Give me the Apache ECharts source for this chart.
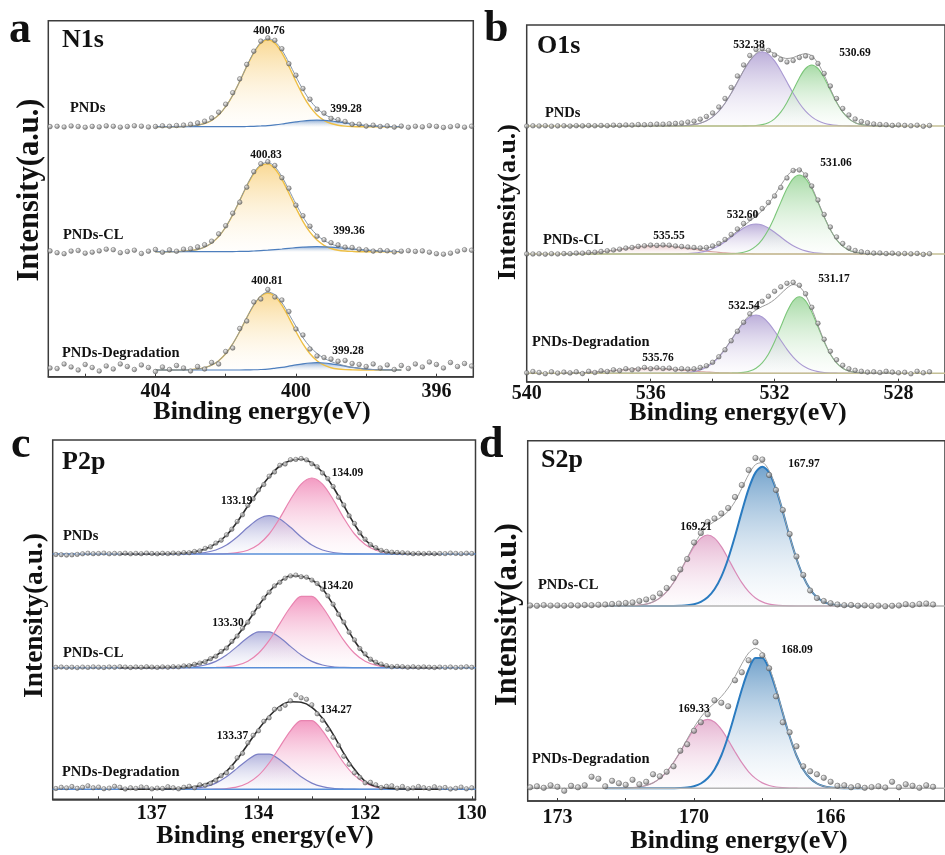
<!DOCTYPE html>
<html>
<head>
<meta charset="utf-8">
<script src="https://cdn.jsdelivr.net/npm/echarts@6/dist/echarts.min.js"></script>
<style>
html,body{margin:0;padding:0;background:#fff;}
#main{width:945px;height:855px;}
</style>
</head>
<body>
<div id="main"></div>
<script>
// ---------------- N1s (a) : fit grid from 397.0 eV, scan from 395.0 eV, step 0.2 ----------------
const n1sTicks = [396, 398, 400, 402, 404, 406];
const n1sLabels = [396, 400, 404];
const n1sPndsMain = [0,0,0,0,0,0,0,0.2,0.6,1.5,3.2,6.4,11.8,20,31.4,45.3,60.3,73.9,83.5,87,83.5,73.9,60.3,45.3,31.4,20,11.8,6.4,3.2,1.5,0.6,0.2,0,0,0,0];
const n1sPndsMinor = [0,0,0.2,0.4,0.7,1.1,1.8,2.7,3.8,4.8,5.7,6.3,6.5,6.3,5.7,4.8,3.8,2.7,1.8,1.1,0.7,0.4,0.2,0,0,0,0,0,0,0,0,0,0,0,0,0];
const n1sPndsRaw = [0.5,-0.5,0.8,0,-0.7,0.3,1.0,-0.2,0.4,-0.6,
	0.6,-0.4,0.8,0.2,1.5,0.6,2.5,2.4,5.2,7.0,8.3,13.6,17.5,27.5,38.2,51.5,63.0,78.0,86.4,88.8,85.6,75.5,62.3,47.8,34.0,22.5,14.5,8.8,5.5,3.8,2.4,1.6,1.2,0.4,0.9,0.2,
	-0.3,0.5,0.9,0.2,-0.5,0.4,0.8,-0.2,0.3,-0.6,0.2,0.7,-0.3,0.4,0.1];
const n1sClMain = [0,0,0,0,0,0,0,0.3,0.7,1.5,3.2,6.4,11.6,19.5,30.4,43.8,58.5,72.4,82.9,87.8,86.1,78.2,65.7,51.1,36.9,24.6,15.2,8.7,4.6,2.2,1.0,0.4,0.2,0,0,0];
const n1sClMinor = [0.15,0.25,0.4,0.7,1.0,1.5,2.1,2.7,3.4,4.0,4.5,4.9,5,4.9,4.5,4.0,3.4,2.7,2.1,1.5,1.0,0.7,0.4,0.25,0.15,0,0,0,0,0,0,0,0,0,0,0];
const n1sClRaw = [1.5,2.0,0.5,-1.5,-2.5,-2.0,-0.5,0.8,0.3,1.0,
	0.5,-0.3,0.9,1.2,0.6,1.8,2.5,4.2,4.5,6.8,9.0,12.0,15.5,25.5,36.0,46.5,63.5,74.0,86.2,90.0,88.0,80.0,64.5,49.5,38.5,26.0,17.8,10.5,7.0,4.8,3.0,2.5,0.5,1.8,-0.5,2.2,
	0.5,-1.8,1.5,0.2,-1.0,2.0,2.5,0.8,-0.5,-1.5,1.2,0.6,-2.0,-1.0,0.8];
const n1sDegMain = [0,0,0,0,0,0,0,0.15,0.4,1.0,2.3,4.8,9.3,16.2,26.1,38.5,52.2,64.8,73.7,77,73.7,64.8,52.2,38.5,26.1,16.2,9.3,4.8,2.3,1.0,0.4,0.15,0,0,0,0];
const n1sDegMinor = [0,0,0.1,0.25,0.5,0.9,1.7,2.6,3.8,5.1,6.2,7.0,7.3,7.0,6.2,5.1,3.8,2.6,1.7,0.9,0.5,0.25,0.1,0,0,0,0,0,0,0,0,0,0,0,0,0];
const n1sDegRaw = [4.0,6.5,3.5,7.5,2.0,5.5,8.0,3.0,6.0,1.5,
	4.5,0.5,5.0,2.0,6.0,3.5,5.5,6.5,9.5,8.8,11.0,12.5,14.0,21.0,35.0,41.0,58.5,70.0,73.0,80.5,71.0,68.0,49.0,41.5,22.0,18.5,6.0,7.5,1.0,3.5,-1.0,2.0,4.5,0.5,3.0,-1.5,
	2.5,5.0,0.5,3.5,6.0,1.0,4.0,-1.0,2.5,5.5,0.0,3.0,6.0,1.5,2.0];

// ---------------- O1s (b) : fit grid from 528.0 eV, scan from 527.0 eV, step 0.2 ----------------
const o1sTicks = [528, 530, 532, 534, 536, 538];
const o1sLabels = [528, 532, 536, 540];
const o1sPndsC = [0,0,0,0,0,0,0,0,0.1,0.3,0.65,1.4,2.8,5.2,9.1,14.8,22.8,32.7,43.9,55.3,65.1,71.9,74.3,71.9,65.1,55.3,43.9,32.7,22.8,14.8,9.1,5.2,2.8,1.4,0.65,0.3,0.1,0,0,0,0,0,0,0,0,0,0,0,0,0,0,0,0,0,0];
const o1sPndsOx = [0,0,0,0.1,0.2,0.5,1.4,3.3,7.2,13.8,23.6,35.7,48.1,57.5,61,57.5,48.1,35.7,23.6,13.8,7.2,3.3,1.4,0.5,0.2,0.1,0,0,0,0,0,0,0,0,0,0,0,0,0,0,0,0,0,0,0,0,0,0,0,0,0,0,0,0,0];
const o1sPndsRaw = [0.5,-0.3,0.8,0.2,0.6,
	1.0,0.6,1.2,1.5,2.0,3.2,4.5,7.0,11.0,17.5,27.5,40.0,52.5,62.5,68.5,70.0,68.5,65.5,64.0,66.5,71.0,75.5,77.5,76.5,70.5,61.0,50.0,38.5,27.5,19.0,13.0,9.5,6.8,4.8,3.9,3.0,2.6,2.2,1.8,1.9,1.5,1.2,1.4,0.9,1.0,0.6,0.8,0.3,0.5,0.2,0.4,0.1,0.3,-0.1,0.2,
	0.1,-0.2,0.3,0.0,0.2,-0.1];
const o1sClC = [0,0,0,0,0,0,0,0,0,0,0,0.2,0.4,0.9,1.7,3.1,5.3,8.3,12.3,17.0,21.8,26.0,29.0,30,29.0,26.0,21.8,17.0,12.3,8.3,5.3,3.1,1.7,0.9,0.4,0.2,0,0,0,0,0,0,0,0,0,0,0,0,0,0,0,0,0,0,0];
const o1sClOx = [0,0,0,0,0.1,0.3,0.7,1.7,3.8,7.8,14.4,24.2,37.1,51.6,65.4,75.4,79.0,75.4,65.4,51.6,37.1,24.2,14.4,7.8,3.8,1.7,0.7,0.3,0.1,0,0,0,0,0,0,0,0,0,0,0,0,0,0,0,0,0,0,0,0,0,0,0,0,0,0];
const o1sClW = [0,0,0,0,0,0,0,0,0,0,0,0,0,0,0,0,0,0,0,0,0,0,0,0,0.2,0.3,0.5,0.8,1.2,1.6,2.2,2.9,3.8,4.7,5.6,6.5,7.3,8.0,8.4,8.5,8.4,8.0,7.3,6.5,5.6,4.7,3.8,2.9,2.2,1.6,1.2,0.8,0.5,0.3,0.2];
const o1sClRaw = [0.3,-0.4,0.6,0.1,0.5,
	0.2,0.8,0.4,1.0,0.9,1.5,2.2,3.5,6.0,10.5,17.0,27.0,39.5,54.0,68.0,79.0,84.0,83.5,76.0,66.5,58.0,51.5,45.5,40.0,35.5,30.5,25.0,19.5,14.5,10.5,8.0,6.5,6.0,6.5,7.0,7.5,8.0,8.8,9.0,8.6,8.9,8.2,7.6,6.5,5.9,4.8,4.0,3.2,2.5,1.8,1.5,0.8,0.9,0.3,0.4,
	0.0,0.3,-0.2,0.2,0.0,0.1];
const o1sDegC = [0,0,0,0,0,0,0,0,0,0,0.15,0.35,0.8,1.7,3.3,6.0,10.2,16.2,24.0,33.0,42.3,50.5,56.3,58.3,56.3,50.5,42.3,33.0,24.0,16.2,10.2,6.0,3.3,1.7,0.8,0.35,0.15,0,0,0,0,0,0,0,0,0,0,0,0,0,0,0,0,0,0];
const o1sDegOx = [0,0,0,0,0,0.1,0.3,0.9,2.2,5.0,10.4,19.1,31.5,46.5,61.3,72.5,76.6,72.5,61.3,46.5,31.5,19.1,10.4,5.0,2.2,0.9,0.3,0.1,0,0,0,0,0,0,0,0,0,0,0,0,0,0,0,0,0,0,0,0,0,0,0,0,0,0,0];
const o1sDegW = [0,0,0,0,0,0,0,0,0,0,0,0,0,0,0,0,0,0,0,0,0,0,0,0,0,0.1,0.2,0.3,0.5,0.7,1.0,1.3,1.7,2.2,2.8,3.3,3.8,4.3,4.7,4.9,5,4.9,4.7,4.3,3.8,3.3,2.8,2.2,1.7,1.3,1.0,0.7,0.5,0.3,0.2];
const o1sDegRaw = [1.5,0.5,2.0,-0.5,1.0,
	0.5,1.2,2.0,0.8,1.5,1.2,2.0,3.0,4.5,8.0,13.5,22.0,34.0,50.0,66.0,79.5,88.0,91.0,90.0,86.5,82.0,77.0,72.0,66.0,59.5,51.0,42.0,32.5,23.5,16.5,11.0,7.5,5.8,4.5,4.2,4.6,4.0,5.2,4.8,5.5,4.6,5.8,4.2,3.5,4.6,2.8,3.5,1.8,2.5,0.8,2.0,-0.3,1.5,0.4,1.2,
	0.2,1.5,-0.4,0.8,1.8,0.5];

// ---------------- P2p (c) : fit grid from 130.6 eV step 0.2, scan from 130.0 eV step 0.1 ----------------
const p2pTicks = [130, 131, 132, 133, 134, 135, 136, 137];
const p2pLabelAt = [130, 132, 134, 136];
const p2pLabelText = ['130', '132', '134', '137'];
const p2pPndsA = [0,0,0,0.1,0.4,1.3,3.8,9.5,20.0,35.9,54.5,69.9,76,69.9,54.5,35.9,20.0,9.5,3.8,1.3,0.4,0.1,0,0,0,0,0,0,0,0,0];
const p2pPndsB = [0,0,0,0,0,0,0,0,0.1,0.45,1.5,4.0,9.0,17.0,26.7,35.0,38.3,35.0,26.7,17.0,9.0,4.0,1.5,0.45,0.1,0,0,0,0,0,0];
const p2pPndsFit = [0,0,0.2,0.5,1.0,2.0,5.8,14.2,29.7,48.3,67.0,81.7,91.0,95.0,93.5,88.0,77.2,63.3,48.0,32.0,18.7,10.4,5.1,2.2,1.0,0.5,0.2,0,0,0,0];
const p2pPndsRaw = [0.5,0.8,0.3,0.6,0.9,0.4,
	0.5,0.3,0.7,0.2,0.6,0.3,0.9,1.2,1.5,1.8,2.6,3.6,6.3,9.4,14.8,21.2,30.5,38.2,49.0,56.8,67.5,75.4,81.0,87.2,90.2,94.1,95.5,94.6,94.3,90.0,88.7,82.0,77.8,69.5,64.0,55.2,48.6,39.2,32.5,24.8,19.2,13.8,10.9,7.2,5.6,3.1,2.5,1.3,1.4,0.6,0.9,0.4,0.7,0.2,0.5,0.9,0.3,0.6,0.2,0.8,0.4,
	0.6,0.2,0.9,0.5,0.3,0.8,0.2,-0.4,-0.9,-1.1,-0.7,-0.5];
const p2pClA = [0,0,0,0,0.2,0.8,2.5,6.5,14.4,27.3,44.1,60.7,71.3,71.3,60.7,44.1,27.3,14.4,6.5,2.5,0.8,0.2,0,0,0,0,0,0,0,0,0];
const p2pClB = [0,0,0,0,0,0,0,0,0.1,0.3,0.9,2.7,6.3,12.7,21.3,30.2,35.9,35.9,30.2,21.3,12.7,6.3,2.7,0.9,0.3,0.1,0,0,0,0,0];
const p2pClFit = [0,0,0.1,0.3,0.7,1.5,5,13,27,45,63,79,88,91.5,92,86,76,62,46,32,20,12,6.5,3.2,1.5,0.7,0.35,0.1,0,0,0];
const p2pClRaw = [0.4,0.9,0.5,0.2,0.7,0.3,
	0.6,0.2,0.5,0.8,0.4,0.9,0.5,1.0,1.3,0.9,2.0,3.6,5.5,8.5,13.8,19.2,27.8,35.5,45.6,53.4,63.5,71.8,78.5,84.2,87.6,90.5,91.0,92.6,91.8,89.5,85.4,81.8,75.5,69.6,61.4,54.5,45.5,39.4,31.6,26.3,19.6,16.2,11.5,9.0,6.0,4.6,3.4,2.0,1.8,0.8,1.0,0.5,0.8,0.3,0.6,0.9,0.4,0.7,0.2,0.6,0.9,
	0.4,0.7,0.2,0.5,0.8,0.3,0.6,0.1,0.5,0.3,0.7,0.4];
const p2pDegA = [0,0,0,0,0.2,0.8,2.4,6.3,13.9,26.3,42.5,58.5,68.7,68.7,58.5,42.5,26.3,13.9,6.3,2.4,0.8,0.2,0,0,0,0,0,0,0,0,0];
const p2pDegB = [0,0,0,0,0,0,0,0,0.1,0.3,0.9,2.6,6.2,12.5,20.9,29.6,35.2,35.2,29.6,20.9,12.5,6.2,2.6,0.9,0.3,0.1,0,0,0,0,0];
const p2pDegFit = [0,0,0.1,0.3,0.6,1.2,3.0,8.0,20,36,55,71,82,87,87.5,83,73,60,45,30,18,10,5.0,2.5,1.2,0.6,0.3,0.1,0,0,0];
const p2pDegRaw = [1.5,0.5,2.2,1.0,0.3,1.8,
	1.2,2.5,0.8,1.6,2.8,1.4,0.6,2.8,1.1,3.5,3.0,1.8,4.5,7.0,6.5,12.0,16.5,25.0,33.0,44.0,52.0,60.0,69.0,75.5,84.5,90.0,91.5,94.5,88.5,84.0,80.5,80.0,71.5,68.0,58.5,54.0,46.5,36.0,31.5,22.0,16.5,13.5,9.0,6.0,4.0,4.5,1.5,3.0,2.0,0.5,1.5,2.6,0.8,1.2,0.4,1.8,2.4,0.9,1.5,0.3,2.0,
	3.0,1.2,0.6,2.2,1.5,3.5,2.0,1.0,2.8,1.4,2.0,0.8];

// ---------------- S2p (d) : fit grid from 165.0 eV, scan from 163.0 eV, step 0.2 ----------------
const s2pTicks = [164, 166, 168, 170, 172, 174];
const s2pLabelAt = [166, 170, 174];
const s2pLabelText = ['166', '170', '173'];
const s2pClB = [0,0,0.1,0.3,0.7,1.8,4.2,8.7,16.7,29.4,47.3,69.7,94.4,117.2,133.4,139.3,133.4,117.2,94.4,69.7,47.3,29.4,16.7,8.7,4.2,1.8,0.7,0.3,0.1,0,0,0,0,0,0,0,0,0,0];
const s2pClP = [0,0,0,0,0,0,0,0,0,0,0,0.1,0.3,0.8,1.9,4.1,8.0,14.3,23.3,34.8,47.5,59.4,67.9,71,67.9,59.4,47.5,34.8,23.3,14.3,8.0,4.1,1.9,0.8,0.3,0.1,0,0,0];
const s2pClRaw = [1.5,2.5,2.0,1.0,1.8,0.5,0.2,-0.3,0.4,0.1,
	0.6,0.3,1.0,0.8,1.5,2.8,5.0,8.0,15.5,31.0,49.5,72.0,96.0,116.0,131.0,146.5,148.0,136.0,121.0,109.0,98.0,92.5,87.5,84.0,73.0,63.5,47.0,36.5,28.0,18.0,12.5,8.5,6.5,5.0,3.6,3.0,2.4,2.0,1.5,
	1.2,0.8,1.0,0.5,0.7,0.3,0.6,0.4,0.9,0.2,0.5];
const s2pDegB = [0,0,0,0.1,0.3,0.8,2.1,4.8,10.0,18.9,32.8,52.0,75.0,98.8,118.8,130.2,130.2,118.8,98.8,75.0,52.0,32.8,18.9,10.0,4.8,2.1,0.8,0.3,0.1,0,0,0,0,0,0,0,0,0,0];
const s2pDegP = [0,0,0,0,0,0,0,0,0,0,0.1,0.2,0.6,1.3,2.8,5.4,9.9,16.5,25.6,36.6,48.3,58.9,66.3,69,66.3,58.9,48.3,36.6,25.6,16.5,9.9,5.4,2.8,1.3,0.6,0.2,0.1,0,0];
const s2pDegRaw = [1.5,3.0,0.5,2.5,4.0,1.0,6.5,0.8,2.0,1.2,
	0.5,2.2,1.0,3.0,2.5,6.5,10.5,14.0,17.0,22.0,42.0,56.0,66.0,92.0,120.0,133.0,146.0,128.0,116.0,108.0,82.0,85.5,88.0,74.0,66.0,57.5,44.0,37.5,22.0,16.5,12.0,14.0,6.5,4.0,8.5,3.5,5.0,7.5,2.0,
	9.5,11.5,3.0,1.0,2.5,-2.5,1.5,3.0,0.5,2.0,1.0];

// ---------------- helpers ----------------
const serif = '"Liberation Serif","Times New Roman",serif';

function energies(start, step, n){
	let out = [];
	for (let i = 0; i < n; i++) out.push(+(start + i * step).toFixed(2));
	return out;
}
function pairs(xArr, yArr){
	return yArr.map((v, i) => [xArr[i], v]);
}
function total(list){
	return list[0].map((_, i) => list.reduce((s, a) => s + a[i], 0));
}
function fade(top, bottom){
	return new echarts.graphic.LinearGradient(0, 0, 0, 1, [{offset: 0, color: top}, {offset: 1, color: bottom}]);
}

// peak styles
const yellowPeak = {line: '#eebf45', width: 1.4, top: 'rgba(246,196,90,0.92)', bottom: 'rgba(255,250,240,0.25)'};
const bluePeak = {line: '#4d7ebd', width: 1.2, top: 'rgba(72,122,190,0.9)', bottom: 'rgba(225,234,246,0.3)'};
const violetPeak = {line: '#a999d2', width: 1.1, top: 'rgba(146,124,194,0.88)', bottom: 'rgba(244,242,249,0.3)'};
const greenPeak = {line: '#7cc67a', width: 1.1, top: 'rgba(112,196,110,0.88)', bottom: 'rgba(244,251,244,0.3)'};
const roseBroad = {line: '#d7a3a0', width: 1.1, top: 'rgba(222,158,158,0.75)', bottom: 'rgba(250,240,240,0.3)'};
const pinkPeak = {line: '#e884b0', width: 1.2, top: 'rgba(236,98,160,0.92)', bottom: 'rgba(252,240,246,0.25)'};
const indigoPeak = {line: '#7c80c6', width: 1.2, top: 'rgba(126,128,198,0.85)', bottom: 'rgba(242,242,250,0.3)'};
const steelPeak = {line: '#2a7bc0', width: 2, top: 'rgba(44,116,178,0.95)', bottom: 'rgba(240,245,250,0.25)'};
const orchidPeak = {line: '#d98bb8', width: 1.2, top: 'rgba(212,128,178,0.85)', bottom: 'rgba(250,240,246,0.3)'};

const dotFill = new echarts.graphic.RadialGradient(0.35, 0.3, 0.75, [
	{offset: 0, color: '#f2f2f2'},
	{offset: 0.55, color: '#a0a0a0'},
	{offset: 1, color: '#5a5a5a'}
]);

const panels = [{
	left: 48.3, top: 20.7, width: 425, height: 356, xMin: 394.95, xMax: 407.05,
	ticks: n1sTicks, labelAt: n1sLabels, labelText: null, labelMargin: 5, H: 100,
	fitX: energies(397.0, 0.2, n1sPndsMain.length), scanX: energies(395.0, 0.2, n1sPndsRaw.length),
	dot: 4.6, fitLine: {color: '#8796a8', width: 1}, base: null,
	spectra: [
		{baseline: 126.7, comps: [[n1sPndsMain, yellowPeak], [n1sPndsMinor, bluePeak]], raw: n1sPndsRaw},
		{baseline: 251.7, comps: [[n1sClMain, yellowPeak], [n1sClMinor, bluePeak]], raw: n1sClRaw},
		{baseline: 370, comps: [[n1sDegMain, yellowPeak], [n1sDegMinor, bluePeak]], raw: n1sDegRaw}
	]
}, {
	left: 526.7, top: 25, width: 440, height: 356.7, xMin: 526.5, xMax: 540,
	ticks: o1sTicks, labelAt: o1sLabels, labelText: null, labelMargin: 2, H: 100,
	fitX: energies(528.0, 0.2, o1sPndsC.length), scanX: energies(527.0, 0.2, o1sPndsRaw.length),
	dot: 4.6, fitLine: {color: '#9a9a9a', width: 1}, base: '#c4bf95',
	spectra: [
		{baseline: 126, comps: [[o1sPndsC, violetPeak], [o1sPndsOx, greenPeak]], raw: o1sPndsRaw},
		{baseline: 254, comps: [[o1sClW, roseBroad], [o1sClC, violetPeak], [o1sClOx, greenPeak]], raw: o1sClRaw},
		{baseline: 373.3, comps: [[o1sDegW, roseBroad], [o1sDegC, violetPeak], [o1sDegOx, greenPeak]], raw: o1sDegRaw}
	]
}, {
	left: 52.7, top: 440, width: 422.8, height: 359.3, xMin: 129.93, xMax: 137.86,
	ticks: p2pTicks, labelAt: p2pLabelAt, labelText: p2pLabelText, labelMargin: 5, H: 100,
	fitX: energies(130.6, 0.2, p2pPndsA.length), scanX: energies(130.0, 0.1, p2pPndsRaw.length),
	dot: 4.4, fitLine: {color: '#2c2c2c', width: 1.6}, base: '#5a8fd8',
	spectra: [
		{baseline: 554, comps: [[p2pPndsB, indigoPeak], [p2pPndsA, pinkPeak]], fit: p2pPndsFit, raw: p2pPndsRaw},
		{baseline: 667.7, comps: [[p2pClB, indigoPeak], [p2pClA, pinkPeak]], fit: p2pClFit, raw: p2pClRaw},
		{baseline: 789.3, comps: [[p2pDegB, indigoPeak], [p2pDegA, pinkPeak]], fit: p2pDegFit, raw: p2pDegRaw}
	]
}, {
	left: 527.7, top: 440.7, width: 440, height: 360.3, xMin: 162.65, xMax: 174.87,
	ticks: s2pTicks, labelAt: s2pLabelAt, labelText: s2pLabelText, labelMargin: 7, H: 160,
	fitX: energies(165.0, 0.2, s2pClB.length), scanX: energies(163.0, 0.2, s2pClRaw.length),
	dot: 5.4, fitLine: {color: '#a2a2a2', width: 1}, base: '#b4b4b4',
	spectra: [
		{baseline: 606, comps: [[s2pClP, orchidPeak], [s2pClB, steelPeak]], raw: s2pClRaw},
		{baseline: 788.3, comps: [[s2pDegP, orchidPeak], [s2pDegB, steelPeak]], raw: s2pDegRaw}
	]
}];

// text notes: [text, x, y, size, align]
const notes = [
	['a', 9, 31, 44, 'left'], ['b', 484, 30, 44, 'left'], ['c', 11, 446, 44, 'left'], ['d', 479, 446, 44, 'left'],
	['N1s', 62, 40, 26, 'left'], ['O1s', 537, 46, 26, 'left'], ['P2p', 62, 462, 26, 'left'], ['S2p', 541, 460.5, 26, 'left'],
	['PNDs', 70, 108, 14.5, 'left'], ['PNDs-CL', 63, 235, 14.5, 'left'], ['PNDs-Degradation', 62, 353, 14.5, 'left'],
	['PNDs', 545, 113, 14.5, 'left'], ['PNDs-CL', 543, 240, 14.5, 'left'], ['PNDs-Degradation', 532, 342, 14.5, 'left'],
	['PNDs', 63, 536, 14.5, 'left'], ['PNDs-CL', 63, 653, 14.5, 'left'], ['PNDs-Degradation', 62, 772, 14.5, 'left'],
	['PNDs-CL', 538, 585, 14.5, 'left'], ['PNDs-Degradation', 532, 759, 14.5, 'left'],
	['400.76', 269, 31, 11.5, 'center'], ['399.28', 346, 109, 11.5, 'center'],
	['400.83', 266, 155, 11.5, 'center'], ['399.36', 349, 231, 11.5, 'center'],
	['400.81', 267, 281, 11.5, 'center'], ['399.28', 348, 351, 11.5, 'center'],
	['532.38', 749, 45, 11.5, 'center'], ['530.69', 855, 53, 11.5, 'center'],
	['531.06', 836, 163, 11.5, 'center'], ['532.60', 742.5, 215, 11.5, 'center'], ['535.55', 669, 236, 11.5, 'center'],
	['531.17', 834, 279, 11.5, 'center'], ['532.54', 744, 306, 11.5, 'center'], ['535.76', 658, 358, 11.5, 'center'],
	['134.09', 347.5, 473, 11.5, 'center'], ['133.19', 236.7, 501, 11.5, 'center'],
	['134.20', 337.5, 586, 11.5, 'center'], ['133.30', 228, 623, 11.5, 'center'],
	['134.27', 336, 710, 11.5, 'center'], ['133.37', 232.5, 736, 11.5, 'center'],
	['167.97', 804, 464, 11.5, 'center'], ['169.21', 696, 527, 11.5, 'center'],
	['168.09', 797, 650, 11.5, 'center'], ['169.33', 694, 709, 11.5, 'center'],
	['Binding energy(eV)', 262, 412, 26, 'center'], ['Binding energy(eV)', 738, 413, 26, 'center'],
	['Binding energy(eV)', 265, 836, 26, 'center'], ['Binding energy(eV)', 739, 841, 26, 'center']
];
// rotated y titles: [x, y, size]
const yTitles = [[30, 190, 30.5], [508.5, 202, 26], [35, 615.5, 27.5], [508, 614.5, 30.5]];

function textEl(text, x, y, size, align, rotation){
	return {
		type: 'text', x: x, y: y, rotation: rotation || 0, z: 100, silent: true,
		style: {
			text: text, fill: '#111',
			font: 'bold ' + size + 'px ' + serif,
			align: align, textAlign: align,
			verticalAlign: 'middle', textVerticalAlign: 'middle'
		}
	};
}

function buildOption(){
	let grid = [], xAxis = [], yAxis = [], series = [];

	panels.forEach((p) => {
		const gi = grid.length;
		grid.push({left: p.left, top: p.top, width: p.width, height: p.height, show: true,
			borderColor: '#3c3c3c', borderWidth: 1.5, backgroundColor: 'transparent'});
		xAxis.push({
			gridIndex: gi, type: 'value', inverse: true, min: p.xMin, max: p.xMax,
			axisLine: {show: true, onZero: false, lineStyle: {color: '#3c3c3c', width: 1.5}},
			axisTick: {show: true, inside: true, length: 3, customValues: p.ticks, lineStyle: {color: '#3c3c3c', width: 1}},
			axisLabel: {
				customValues: p.labelAt, showMinLabel: true, showMaxLabel: true,
				margin: p.labelMargin, color: '#111', fontFamily: serif, fontWeight: 'bold', fontSize: 20,
				formatter: (v) => {
					if (!p.labelText) return String(Math.round(v));
					const k = p.labelAt.indexOf(Math.round(v));
					return k >= 0 ? p.labelText[k] : '';
				}
			},
			splitLine: {show: false}
		});
		yAxis.push({gridIndex: gi, type: 'value', min: 0, max: 1, show: false});

		p.spectra.forEach((s) => {
			const si = grid.length;
			grid.push({left: p.left, width: p.width, top: s.baseline - p.H, height: p.H + 10, show: false});
			xAxis.push({gridIndex: si, type: 'value', inverse: true, min: p.xMin, max: p.xMax, show: false});
			yAxis.push({gridIndex: si, type: 'value', min: -10, max: p.H, show: false});
			const ax = {xAxisIndex: si, yAxisIndex: si, clip: false, silent: true, animation: false};

			s.comps.forEach(([vals, sty]) => {
				series.push(Object.assign({
					type: 'line', data: pairs(p.fitX, vals), smooth: 0.3, showSymbol: false,
					lineStyle: {color: sty.line, width: sty.width},
					areaStyle: {color: fade(sty.top, sty.bottom)}, z: 3
				}, ax));
			});
			if (p.base) {
				series.push(Object.assign({
					type: 'line', data: [[p.xMin, 0], [p.xMax, 0]], showSymbol: false,
					lineStyle: {color: p.base, width: 1.4}, z: 4
				}, ax));
			}
			const env = s.fit || total(s.comps.map((c) => c[0]));
			series.push(Object.assign({
				type: 'line', data: pairs(p.fitX, env), smooth: 0.3, showSymbol: false,
				lineStyle: p.fitLine, z: 5
			}, ax));
			series.push(Object.assign({
				type: 'scatter', data: pairs(p.scanX, s.raw), symbolSize: p.dot,
				itemStyle: {color: dotFill, borderColor: '#555', borderWidth: 0.6}, z: 6
			}, ax));
		});
	});

	let elements = notes.map((n) => textEl(n[0], n[1], n[2], n[3], n[4]));
	yTitles.forEach((t) => elements.push(textEl('Intensity(a.u.)', t[0], t[1], t[2], 'center', Math.PI / 2)));

	return {
		animation: false,
		backgroundColor: '#fff',
		grid: grid, xAxis: xAxis, yAxis: yAxis, series: series,
		graphic: {elements: elements}
	};
}

const myChart = echarts.init(document.getElementById('main'), null, {renderer: 'canvas'});
myChart.setOption(buildOption());
</script>
</body>
</html>
